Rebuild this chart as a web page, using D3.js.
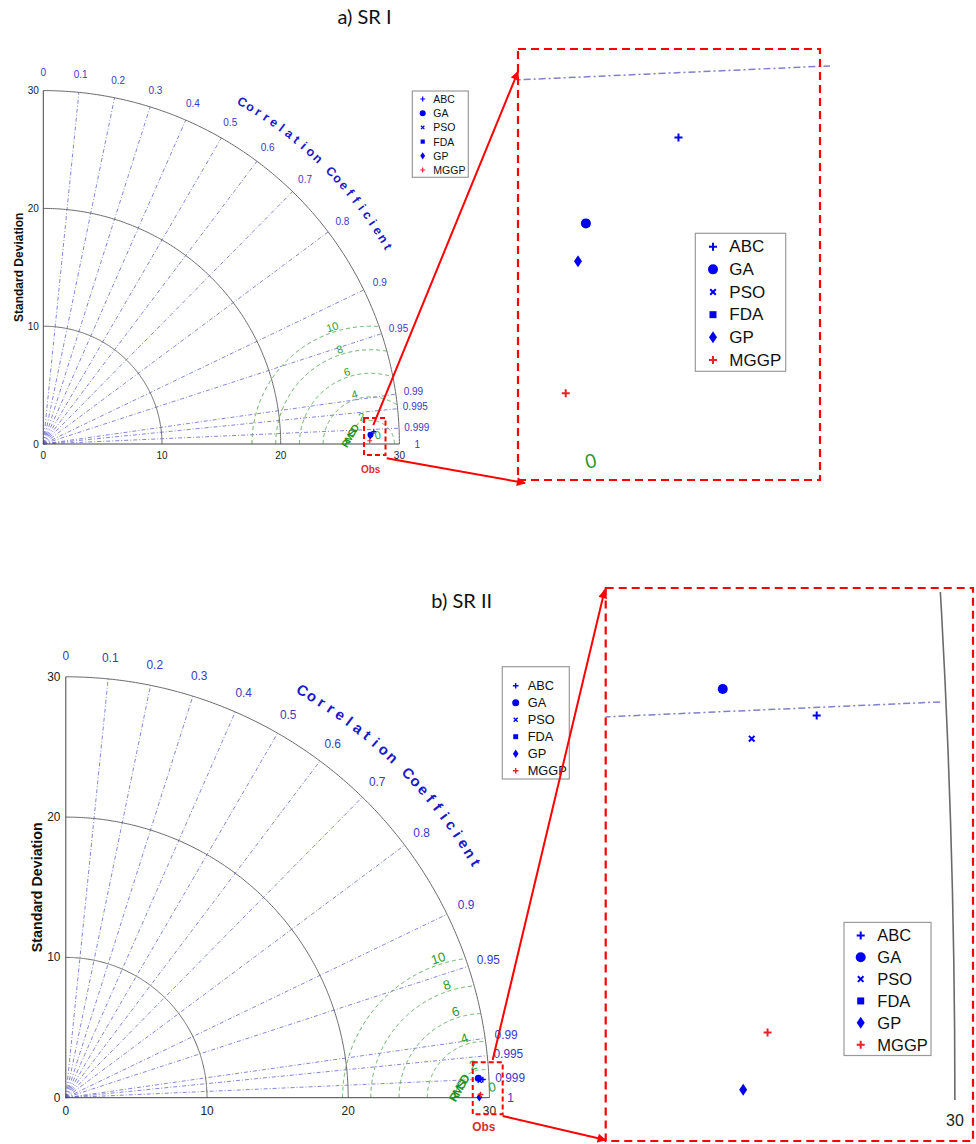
<!DOCTYPE html>
<html>
<head>
<meta charset="utf-8">
<script src="https://cdn.jsdelivr.net/npm/d3@7"></script>
<style>
  body { margin: 0; background: #fff; }
  svg text { font-family: "Liberation Sans", Arial, sans-serif; }
</style>
</head>
<body>
<svg id="chart" width="976" height="1144"></svg>
<script>
// ---- data ----
const models = ['ABC', 'GA', 'PSO', 'FDA', 'GP', 'MGGP'];
const modelShapes = ['plus', 'circle', 'times', 'square', 'diamond', 'plus'];
const modelColors = ['#0000ee', '#0000ee', '#0000ee', '#0000ee', '#0000ee', '#e3242b'];
const drawOrder = [2, 3, 0, 1, 4, 5];

const corrTicks = [0, 0.1, 0.2, 0.3, 0.4, 0.5, 0.6, 0.7, 0.8, 0.9, 0.95, 0.99, 0.995, 0.999, 1];
const stdTicks = [0, 10, 20, 30];
const rmsdLevels = [2, 4, 6, 8, 10];

// SR I (std, correlation) per model, reference std
const srIStd  = [27.866, 27.577, 27.577, 27.577, 27.550, 27.506];
const srICorr = [0.99929, 0.99959, 0.99959, 0.99959, 0.99970, 0.99995];
const srIObs = 27.58;

// SR II
const srIIStd  = [29.563, 29.251, 29.341, 29.251, 29.287, 29.370];
const srIICorr = [0.99904, 0.99888, 0.99914, 0.99888, 0.9999993, 0.99997];
const srIIObs = 29.6;

// ---- layout ----
const panels = [
  {
    title: 'a) SR I', titleAt: [364.5, 23.5],
    std: srIStd, corr: srICorr, obs: srIObs,
    main: { x0: 43.3, y0: 444, kx: 11.87, ky: 11.78, f: 1 },
    legend: { x: 412.3, y: 91, w: 56, h: 86.3, row0: 8, dy: 14.2, mx: 10.4, tx: 21, font: 10.5, ms: 6 },
    box: { x: [27.02, 28.83], y: [-0.93, 2.21] },
    inset: {
      left: 518, top: 49, right: 820, bottom: 480,
      x: [27.36, 28.275], y: [0.012, 1.318], zero: true,
      legend: { x: 695.3, y: 233.3, w: 90.4, h: 138, row0: 13.4, dy: 22.66, mx: 17.7, tx: 34, font: 17, ms: 10 }
    },
    arrows: [
      { from: [27.80, 1.61], edge: 'top', dx: 0, dy: 22.7 },
      { from: [28.93, -1.21], edge: 'bottom', dx: 7, dy: 3 }
    ]
  },
  {
    title: 'b) SR II', titleAt: [461.7, 608],
    std: srIIStd, corr: srIICorr, obs: srIIObs,
    main: { x0: 65.8, y0: 1097.7, kx: 14.12, ky: 14.03, f: 1.19 },
    legend: { x: 502.3, y: 666.7, w: 67, h: 112.3, row0: 19, dy: 17, mx: 13.4, tx: 25.4, font: 12.8, ms: 7 },
    box: { x: [28.82, 30.94], y: [-1.18, 2.52] },
    inset: {
      left: 605.7, top: 588, right: 973, bottom: 1141,
      x: [28.824, 30.061], y: [-0.138, 1.724], zero: false,
      legend: { x: 844, y: 922.4, w: 87, h: 133.1, row0: 13, dy: 21.85, mx: 16.7, tx: 33.3, font: 16.5, ms: 10 }
    },
    arrows: [
      { from: [30.23, 2.69], edge: 'top', dx: -1, dy: 2 },
      { from: [30.94, -1.30], edge: 'bottom', dx: 0, dy: -1 }
    ]
  }
];

const maxStd = d3.max(stdTicks);
const svg = d3.select('#chart');

svg.append('defs').append('marker')
  .attr('id', 'head').attr('viewBox', '0 0 10 10')
  .attr('refX', 9).attr('refY', 5)
  .attr('markerWidth', 10).attr('markerHeight', 9)
  .attr('markerUnits', 'userSpaceOnUse')
  .attr('orient', 'auto')
  .append('path').attr('d', 'M0,0L10,5L0,10z').attr('fill', '#ff0000');

function samples(fn, t0, t1, n) {
  return d3.range(n + 1).map(i => fn(t0 + (t1 - t0) * i / n));
}

function rmsdArc(obs, r) {
  const c = (maxStd * maxStd - obs * obs - r * r) / (2 * obs * r);
  const tEnd = c >= 1 ? 0 : Math.acos(Math.max(-1, c));
  return samples(t => [obs + r * Math.cos(t), r * Math.sin(t)], Math.PI, tEnd, 200);
}

function toXY(s, c) {
  return [s * c, s * Math.sqrt(Math.max(0, 1 - c * c))];
}

function marker(g, shape, cx, cy, s, color) {
  const sw = Math.max(1, s * 0.2);
  if (shape === 'plus') {
    const h = s * 0.4;
    g.append('path').attr('d', `M${cx - h},${cy}H${cx + h}M${cx},${cy - h}V${cy + h}`)
      .attr('stroke', color).attr('stroke-width', sw).attr('fill', 'none');
  } else if (shape === 'times') {
    const h = s * 0.28;
    g.append('path').attr('d', `M${cx - h},${cy - h}L${cx + h},${cy + h}M${cx - h},${cy + h}L${cx + h},${cy - h}`)
      .attr('stroke', color).attr('stroke-width', sw).attr('fill', 'none');
  } else if (shape === 'circle') {
    g.append('circle').attr('cx', cx).attr('cy', cy).attr('r', s / 2).attr('fill', color);
  } else if (shape === 'square') {
    const h = s * 0.35;
    g.append('rect').attr('x', cx - h).attr('y', cy - h).attr('width', 2 * h).attr('height', 2 * h).attr('fill', color);
  } else if (shape === 'diamond') {
    const w = s * 0.4, h = s * 0.6;
    g.append('path').attr('d', `M${cx},${cy - h}L${cx + w},${cy}L${cx},${cy + h}L${cx - w},${cy}Z`).attr('fill', color);
  }
}

function drawLegend(L) {
  const g = svg.append('g');
  g.append('rect').attr('x', L.x).attr('y', L.y).attr('width', L.w).attr('height', L.h)
    .attr('fill', '#fff').attr('stroke', '#9a9a9a').attr('stroke-width', 1.2);
  models.forEach((m, i) => {
    const ry = L.y + L.row0 + i * L.dy;
    marker(g, modelShapes[i], L.x + L.mx, ry, L.ms, modelColors[i]);
    g.append('text').attr('x', L.x + L.tx).attr('y', ry).attr('dominant-baseline', 'central')
      .attr('font-size', L.font).attr('fill', '#111').text(m);
  });
}

// grid shared by main view and inset view
function drawGrid(g, x, y, p, st) {
  const line = d3.line().x(d => x(d[0])).y(d => y(d[1]));
  // correlation rays
  corrTicks.filter(c => c > 0 && c < 1).forEach(c => {
    g.append('path').attr('d', line([[0, 0], toXY(maxStd * st.rayExt, c)]))
      .attr('fill', 'none').attr('stroke', st.rayColor).attr('stroke-width', st.rayW)
      .attr('stroke-dasharray', st.rayDash);
  });
  // RMSD contours
  rmsdLevels.forEach(r => {
    g.append('path').attr('d', line(rmsdArc(p.obs, r)))
      .attr('fill', 'none').attr('stroke', '#5fae5f').attr('stroke-width', st.rmsdW)
      .attr('stroke-dasharray', st.rmsdDash);
  });
  // std arcs
  stdTicks.filter(s => s > 0).forEach(s => {
    g.append('path').attr('d', line(samples(t => [s * Math.cos(t), s * Math.sin(t)], 0, Math.PI / 2, 200)))
      .attr('fill', 'none').attr('stroke', '#6a6a6a').attr('stroke-width', st.arcW);
  });
}

function drawPoints(g, x, y, p, ms) {
  drawOrder.forEach(i => {
    const [px, py] = toXY(p.std[i], p.corr[i]);
    marker(g, modelShapes[i], x(px), y(py), ms, modelColors[i]);
  });
}

function drawMain(p) {
  const m = p.main, f = m.f;
  const x = d3.scaleLinear().domain([0, maxStd]).range([m.x0, m.x0 + maxStd * m.kx]);
  const y = d3.scaleLinear().domain([0, maxStd]).range([m.y0, m.y0 - maxStd * m.ky]);
  const g = svg.append('g');

  svg.append('text').attr('x', p.titleAt[0]).attr('y', p.titleAt[1]).attr('text-anchor', 'middle')
    .style('font-family', 'Lato, "Open Sans", sans-serif').attr('font-size', 20).attr('fill', '#111').text(p.title);

  drawGrid(g, x, y, p, {
    rayColor: '#6666cc', rayW: 0.8, rayDash: '4,2,1,2', rayExt: 1,
    rmsdW: 1, rmsdDash: '4,3', arcW: 1
  });

  // axes
  g.append('line').attr('x1', x(0)).attr('y1', y(0)).attr('x2', x(maxStd)).attr('y2', y(0))
    .attr('stroke', '#444').attr('stroke-width', 1);
  g.append('line').attr('x1', x(0)).attr('y1', y(0)).attr('x2', x(0)).attr('y2', y(maxStd))
    .attr('stroke', '#444').attr('stroke-width', 1);

  stdTicks.forEach(s => {
    g.append('text').attr('x', x(0) - 4.5 * f).attr('y', y(s)).attr('text-anchor', 'end')
      .attr('dominant-baseline', 'central').attr('font-size', 10 * f).attr('fill', '#222').text(s);
    g.append('text').attr('x', x(s)).attr('y', y(0) + 11 * f).attr('text-anchor', 'middle')
      .attr('dominant-baseline', 'central').attr('font-size', 10 * f).attr('fill', '#222').text(s);
  });

  g.append('text').attr('transform', `translate(${x(0) - 24 * f},${y(maxStd / 2)}) rotate(-90)`)
    .attr('text-anchor', 'middle').attr('dominant-baseline', 'central')
    .attr('font-size', 12 * f).attr('font-weight', 'bold').attr('fill', '#111').text('Standard Deviation');

  // correlation labels
  corrTicks.forEach(c => {
    const [cx, cy] = toXY(31.5, c);
    g.append('text').attr('x', x(cx)).attr('y', y(cy)).attr('text-anchor', 'middle')
      .attr('dominant-baseline', 'central').attr('font-size', 10 * f).attr('fill', '#3a3ac4').text(c);
  });

  const chars = 'Correlation Coefficient'.split('');
  chars.forEach((ch, i) => {
    const a = (60 - 30 * i / (chars.length - 1)) * Math.PI / 180;
    g.append('text')
      .attr('transform', `translate(${x(33.5 * Math.cos(a))},${y(33.5 * Math.sin(a))}) rotate(${90 - a * 180 / Math.PI})`)
      .attr('text-anchor', 'middle').attr('dominant-baseline', 'central')
      .attr('font-size', 12.5 * f).attr('font-weight', 'bold').attr('fill', '#1a1ac8').text(ch);
  });

  // RMSD labels
  const la = 108 * Math.PI / 180;
  rmsdLevels.forEach(r => {
    const lx = p.obs + (r + 0.45) * Math.cos(la), ly = (r + 0.45) * Math.sin(la);
    g.append('text').attr('transform', `translate(${x(lx)},${y(ly)}) rotate(-18)`)
      .attr('text-anchor', 'middle').attr('dominant-baseline', 'central')
      .attr('font-size', 11 * f).attr('fill', '#2f9b2f').text(r);
  });
  g.append('text').attr('transform', `translate(${x(p.obs) + 7 * f},${y(0) - 9 * f}) rotate(-12)`)
    .attr('text-anchor', 'middle').attr('dominant-baseline', 'central')
    .attr('font-size', 11 * f).attr('fill', '#2f9b2f').text(0);
  g.append('text').attr('transform', `translate(${x(p.obs - 1.75)},${y(0.65)}) rotate(-60)`)
    .attr('text-anchor', 'middle').attr('dominant-baseline', 'central')
    .attr('font-size', 10 * f).attr('font-weight', 'bold').attr('letter-spacing', -1.5 * f)
    .attr('fill', '#1c921c').text('RMSD');

  g.append('text').attr('x', x(p.obs)).attr('y', y(0) + 25 * f).attr('text-anchor', 'middle')
    .attr('dominant-baseline', 'central').attr('font-size', 10 * f).attr('font-weight', 'bold')
    .attr('fill', '#d8302f').text('Obs');

  drawPoints(g, x, y, p, 6 * f);
  drawLegend(p.legend);

  // zoom box
  g.append('rect').attr('x', x(p.box.x[0])).attr('y', y(p.box.y[1]))
    .attr('width', x(p.box.x[1]) - x(p.box.x[0])).attr('height', y(p.box.y[0]) - y(p.box.y[1]))
    .attr('fill', 'none').attr('stroke', '#ff0000').attr('stroke-width', 2).attr('stroke-dasharray', '5,3');

  return { x, y };
}

function drawInset(p, mainScales, idx) {
  const I = p.inset;
  const x = d3.scaleLinear().domain(I.x).range([I.left, I.right]);
  const y = d3.scaleLinear().domain(I.y).range([I.bottom, I.top]);
  const clipId = 'clip' + idx;
  svg.append('clipPath').attr('id', clipId).append('rect')
    .attr('x', I.left).attr('y', I.top + 4).attr('width', I.right - I.left + 10).attr('height', I.bottom - I.top - 4);
  const g = svg.append('g').attr('clip-path', `url(#${clipId})`);

  drawGrid(g, x, y, p, {
    rayColor: '#8080cc', rayW: 1.5, rayDash: '7,3,2,3', rayExt: 0.9995,
    rmsdW: 1.5, rmsdDash: '8,5', arcW: 1.6
  });

  const inX = v => v >= I.x[0] && v <= I.x[1];
  stdTicks.filter(inX).forEach(s => {
    svg.append('text').attr('x', x(s)).attr('y', y(0) + 20).attr('text-anchor', 'middle')
      .attr('dominant-baseline', 'central').attr('font-size', 16).attr('fill', '#222').text(s);
  });
  if (I.zero && inX(p.obs)) {
    svg.append('text').attr('transform', `translate(${x(p.obs)},${y(0) - 23}) rotate(-14)`)
      .attr('text-anchor', 'middle').attr('dominant-baseline', 'central')
      .attr('font-size', 20).attr('fill', '#2f9b2f').text(0);
  }
  drawPoints(g, x, y, p, 10);
  drawLegend(I.legend);

  svg.append('rect').attr('x', I.left).attr('y', I.top)
    .attr('width', I.right - I.left).attr('height', I.bottom - I.top)
    .attr('fill', 'none').attr('stroke', '#ff0000').attr('stroke-width', 2.2).attr('stroke-dasharray', '8,5');

  p.arrows.forEach(a => {
    const x1 = mainScales.x(a.from[0]), y1 = mainScales.y(a.from[1]);
    const x2 = I.left + a.dx, y2 = (a.edge === 'top' ? I.top : I.bottom) + a.dy;
    svg.append('line').attr('x1', x1).attr('y1', y1).attr('x2', x2).attr('y2', y2)
      .attr('stroke', '#ff0000').attr('stroke-width', 2).attr('marker-end', 'url(#head)');
  });
}

panels.forEach((p, i) => {
  const s = drawMain(p);
  drawInset(p, s, i);
});
</script>
</body>
</html>
